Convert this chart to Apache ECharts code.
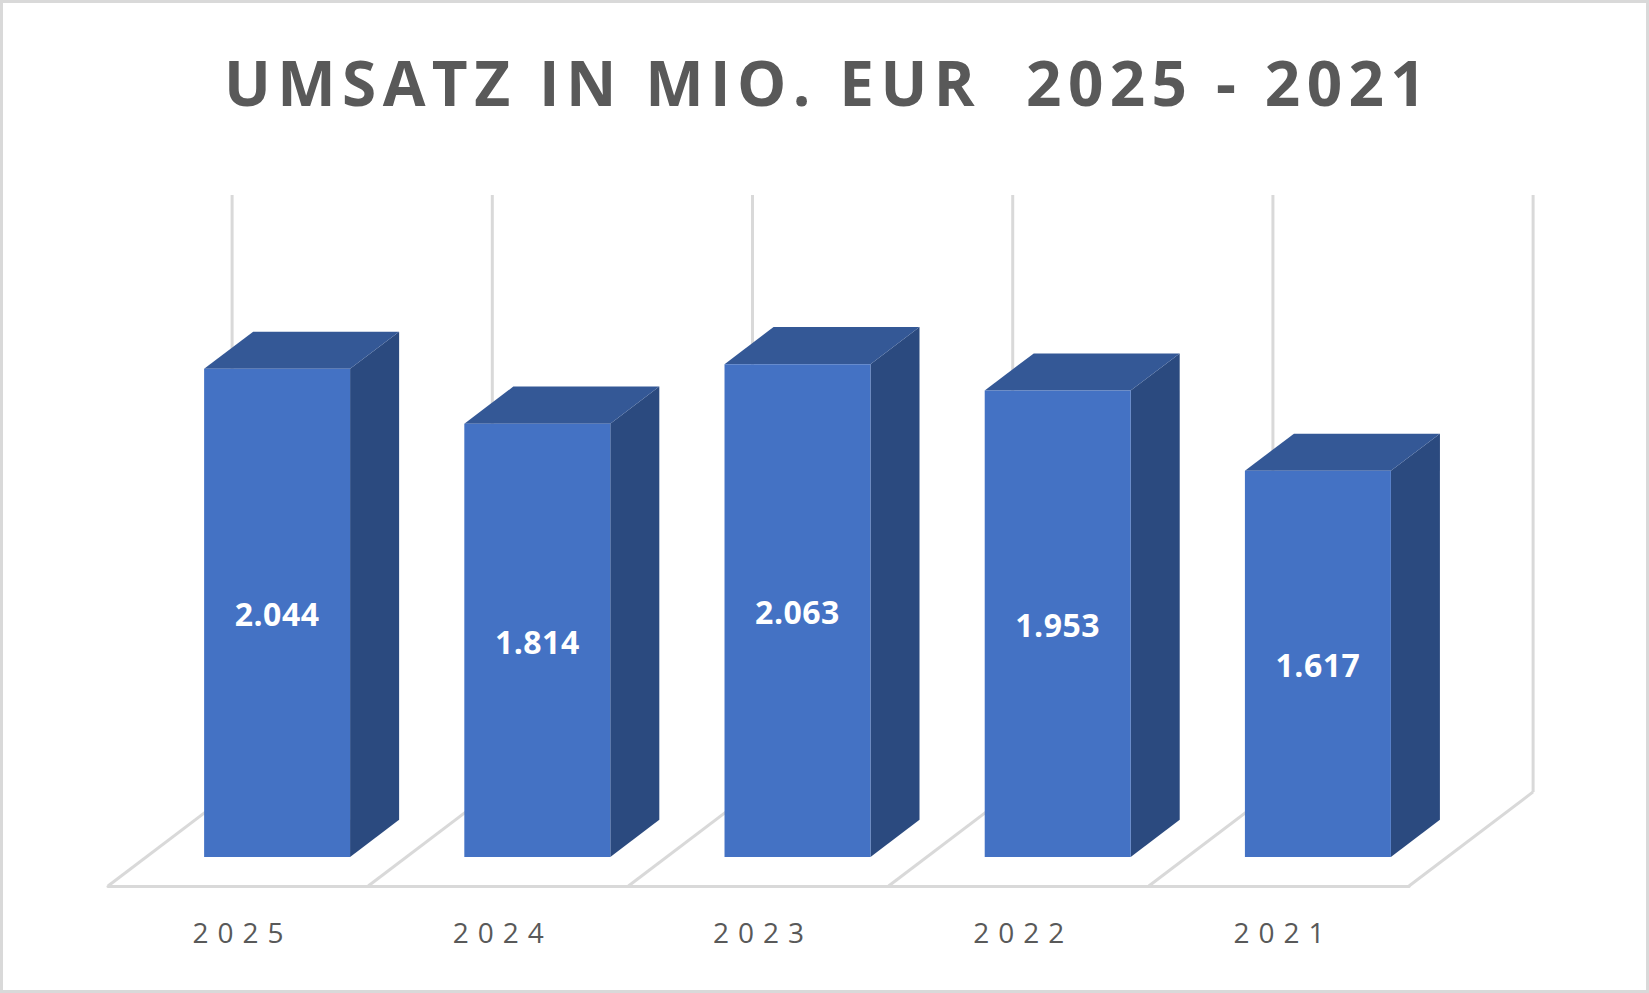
<!DOCTYPE html>
<html>
<head>
<meta charset="utf-8">
<title>Umsatz in Mio. EUR</title>
<script src="https://cdn.jsdelivr.net/npm/echarts@6/dist/echarts.min.js"></script>
<style>
	html,body{margin:0;padding:0;background:#fff}
	#chart{width:1649px;height:993px}
</style>
</head>
<body>
<div id="chart"></div>
<script>
const years = ['2025', '2024', '2023', '2022', '2021'];
const umsatz = [2044, 1814, 2063, 1953, 1617];
const yMax = 2500;
const titleText = 'UMSATZ IN MIO. EUR  2025 - 2021';

// fake 3d: floor depth as share of one category band, columns sit between d0 and d1 of it
const depth = 0.477;
const slope = 0.758;
const d0 = 0.309, d1 = 0.704;
const barOffset = 0.222, barWidth = 0.561;

const lineColor = '#d9d9d9';
const textColor = '#595959';
const frontColor = '#4472c4';
const sideColor = '#2b4a7f';
const topColor = '#345896';

function fmt(v){
	// german thousands separator
	return String(v).replace(/\B(?=(\d{3})+(?!\d))/g, '.');
}

function renderFloor(params, api){
	let i = api.value(0);
	let base = api.coord([i, 0]);
	let top = api.coord([i, yMax]);
	let band = api.size([1, 0])[0];
	let dx = band*depth, dy = dx*slope;
	let style = {stroke: lineColor, lineWidth: 3, fill: null};
	let edges = [base[0] - band/2];
	if(i == years.length - 1) edges.push(base[0] + band/2);
	let children = [];
	edges.forEach(x => {
		children.push({type: 'line', shape: {x1: x, y1: base[1], x2: x + dx, y2: base[1] - dy}, style: style});
		children.push({type: 'line', shape: {x1: x + dx, y1: base[1] - dy, x2: x + dx, y2: top[1] - dy}, style: style});
	});
	return {type: 'group', children: children};
}

function renderBar(params, api){
	let i = api.value(0), v = api.value(1);
	let base = api.coord([i, 0]);
	let top = api.coord([i, v]);
	let band = api.size([1, 0])[0];
	let dx = band*depth, dy = dx*slope;
	let x0 = base[0] - band/2 + band*barOffset + dx*d0;
	let x1 = x0 + band*barWidth;
	let yb = base[1] - dy*d0, yt = top[1] - dy*d0;
	let bx = dx*(d1 - d0), by = dy*(d1 - d0);
	return {
		type: 'group',
		children: [
			{type: 'polygon', shape: {points: [[x1, yb], [x1 + bx, yb - by], [x1 + bx, yt - by], [x1, yt]]}, style: {fill: sideColor}},
			{type: 'polygon', shape: {points: [[x0, yt], [x1, yt], [x1 + bx, yt - by], [x0 + bx, yt - by]]}, style: {fill: topColor}},
			{type: 'rect', shape: {x: x0, y: yt, width: x1 - x0, height: yb - yt}, style: {fill: frontColor}},
			{type: 'text', x: (x0 + x1)/2, y: (yt + yb)/2 + 1, style: {
				text: fmt(v), fill: '#fff', font: 'bold 32px "Open Sans"', align: 'center', verticalAlign: 'middle'
			}}
		]
	};
}

var myChart = echarts.init(document.getElementById('chart'), null, {renderer: 'svg'});
let option = {
	animation: false,
	backgroundColor: '#fff',
	title: {
		text: titleText,
		left: 219,
		top: 46,
		textStyle: {
			fontFamily: 'Open Sans',
			fontWeight: 'bold',
			fontSize: 62,
			color: textColor
		}
	},
	graphic: [
		{type: 'rect', silent: true, shape: {x: 1.5, y: 1.5, width: 1646, height: 990}, style: {fill: null, stroke: lineColor, lineWidth: 3}}
	],
	grid: {left: 108, right: 240, top: 289, bottom: 107},
	xAxis: {
		type: 'category',
		data: years,
		axisLine: {lineStyle: {color: lineColor, width: 3}},
		axisTick: {show: false},
		splitLine: {show: false},
		axisLabel: {
			margin: 32,
			lineHeight: 28,
			color: textColor,
			fontFamily: 'Open Sans',
			fontSize: 28
		}
	},
	yAxis: {
		type: 'value',
		min: 0,
		max: yMax,
		show: false,
		splitLine: {show: false}
	},
	series: [
		{
			type: 'custom',
			name: 'floor',
			renderItem: renderFloor,
			data: years.map((y, i) => [i, 0]),
			encode: {x: 0, y: 1},
			silent: true,
			z: 1
		},
		{
			type: 'custom',
			name: 'Umsatz',
			renderItem: renderBar,
			data: umsatz.map((v, i) => [i, v]),
			encode: {x: 0, y: 1},
			z: 2
		}
	]
};

// letter spacing like the original (svg text only)
function spaceText(){
	document.querySelectorAll('#chart text').forEach(t => {
		let s = t.textContent;
		if(s.trim() == titleText.trim()){
			t.setAttribute('letter-spacing', '6.4');
		}else if(years.indexOf(s) >= 0){
			t.setAttribute('letter-spacing', '9');
			t.setAttribute('dx', '4.5');
		}else if(s.indexOf('.') > 0){
			t.setAttribute('letter-spacing', '0.5');
		}
	});
}
myChart.on('finished', spaceText);
myChart.setOption(option);
spaceText();
</script>
</body>
</html>
